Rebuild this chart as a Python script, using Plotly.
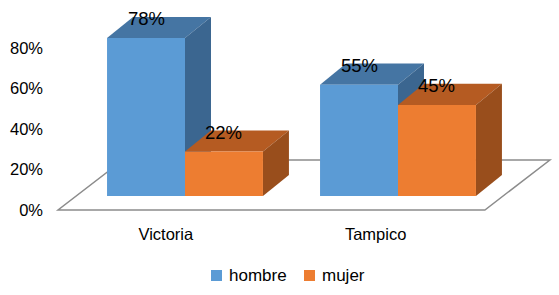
import plotly.graph_objects as go
import numpy as np

# ---------------- data ----------------
categories = ["Victoria", "Tampico"]
series_names = ["hombre", "mujer"]
hombre = [78, 55]
mujer = [22, 45]
y_tick_values = [0, 20, 40, 60, 80]
y_tick_labels = ["0%", "20%", "40%", "60%", "80%"]

# ---------------- styling / pseudo-3D geometry ----------------
FRONT = {"hombre": "#5B9BD5", "mujer": "#ED7D31"}
TOP = {"hombre": "#4575A3", "mujer": "#B55B22"}
SIDE = {"hombre": "#3B6690", "mujer": "#994E1C"}
FONT = "Liberation Sans, Arial, sans-serif"

W = 0.366        # bar width (category units)
DX, DY = 0.122, 10.4   # bar depth projection (x units, % units)
B = 6.9          # bar front sits this far "behind" the floor front edge
FL, FR = -0.596, 1.408   # floor front edge extent
FDX, FDY = 0.305, 24.7   # floor depth projection
LABEL_DY = 9.5

# layout in pixels
L, R, T, BM = 44, 0, 0, 80
WIDTH, HEIGHT = 559, 295
plot_w, plot_h = WIDTH - L - R, HEIGHT - T - BM


def px_to_paper(px, py):
    return (px - L) / plot_w, (T + plot_h - py) / plot_h


x = np.arange(len(categories))
series = {"hombre": hombre, "mujer": mujer}
offsets = {"hombre": -W, "mujer": 0.0}

fig = go.Figure()
shapes = []

# floor
floor_path = (f"M{FL},0 L{FR},0 L{FR + FDX},{FDY} L{FL + FDX},{FDY} Z")
shapes.append(dict(type="path", path=floor_path, xref="x", yref="y",
                   fillcolor="white", line=dict(color="#8C8C8C", width=1.5),
                   layer="below"))

# top and side faces, drawn category by category, series by series
for i in x:
    for name in series_names:
        v = series[name][i]
        x0 = i + offsets[name]
        x1 = x0 + W
        ytop = B + v
        top = (f"M{x0},{ytop} L{x1},{ytop} L{x1 + DX},{ytop + DY} "
               f"L{x0 + DX},{ytop + DY} Z")
        side = (f"M{x1},{B} L{x1},{ytop} L{x1 + DX},{ytop + DY} "
                f"L{x1 + DX},{B + DY} Z")
        shapes.append(dict(type="path", path=top, xref="x", yref="y",
                           fillcolor=TOP[name], line=dict(width=0), layer="below"))
        shapes.append(dict(type="path", path=side, xref="x", yref="y",
                           fillcolor=SIDE[name], line=dict(width=0), layer="below"))

# front faces as bars
for name in series_names:
    fig.add_trace(go.Bar(
        x=x, y=series[name], base=B, width=W, offset=offsets[name],
        name=name, marker=dict(color=FRONT[name], line=dict(width=0)),
        showlegend=False,
        customdata=series[name],
        hovertemplate="%{customdata}%<extra>" + name + "</extra>",
    ))

annotations = []
# data labels
for name in series_names:
    for i in x:
        v = series[name][i]
        annotations.append(dict(
            x=i + offsets[name] + W / 2, y=B + v + LABEL_DY, xref="x", yref="y",
            text=f"{v}%", showarrow=False,
            font=dict(family=FONT, size=18.5, color="#000000"),
            xanchor="center", yanchor="middle"))

# custom legend
legend_items = [("hombre", 211, 227), ("mujer", 304, 320)]
for name, sq_x, tx in legend_items:
    ax0, ay0 = px_to_paper(sq_x, 281)
    ax1, ay1 = px_to_paper(sq_x + 11, 270)
    shapes.append(dict(type="rect", xref="paper", yref="paper",
                       x0=ax0, y0=ay0, x1=ax1, y1=ay1,
                       fillcolor=FRONT[name], line=dict(width=0)))
    tx_p, ty_p = px_to_paper(tx, 275.5)
    annotations.append(dict(x=tx_p, y=ty_p, xref="paper", yref="paper",
                            text=name, showarrow=False, xanchor="left",
                            yanchor="middle",
                            font=dict(family=FONT, size=17, color="#000000")))

x_left = (L - 185) / 213
x_right = (WIDTH - R - 185) / 213
y_top = (210 - T) / 2.025
y_bot = (210 - (T + plot_h)) / 2.025

fig.update_layout(
    width=WIDTH, height=HEIGHT,
    margin=dict(l=L, r=R, t=T, b=BM, pad=0),
    paper_bgcolor="white", plot_bgcolor="white",
    barmode="overlay",
    shapes=shapes, annotations=annotations,
    showlegend=False,
    font=dict(family=FONT, color="#000000"),
    xaxis=dict(range=[x_left, x_right], showgrid=False, zeroline=False,
               showline=False, tickmode="array",
               tickvals=x * 0.985 - 0.09, ticktext=categories,
               ticks="outside", ticklen=4, tickcolor="rgba(0,0,0,0)",
               tickfont=dict(family=FONT, size=16.5, color="#000000"),
               fixedrange=True),
    yaxis=dict(range=[y_bot, y_top], showgrid=False, zeroline=False,
               showline=False, tickmode="array", tickvals=y_tick_values,
               ticktext=y_tick_labels, ticks="",
               tickfont=dict(family=FONT, size=16.5, color="#000000"),
               fixedrange=True),
)

fig.write_html(
    "out.html",
    config={"displayModeBar": False},
    post_script="document.body.style.margin='0';document.body.style.overflow='hidden';",
)
